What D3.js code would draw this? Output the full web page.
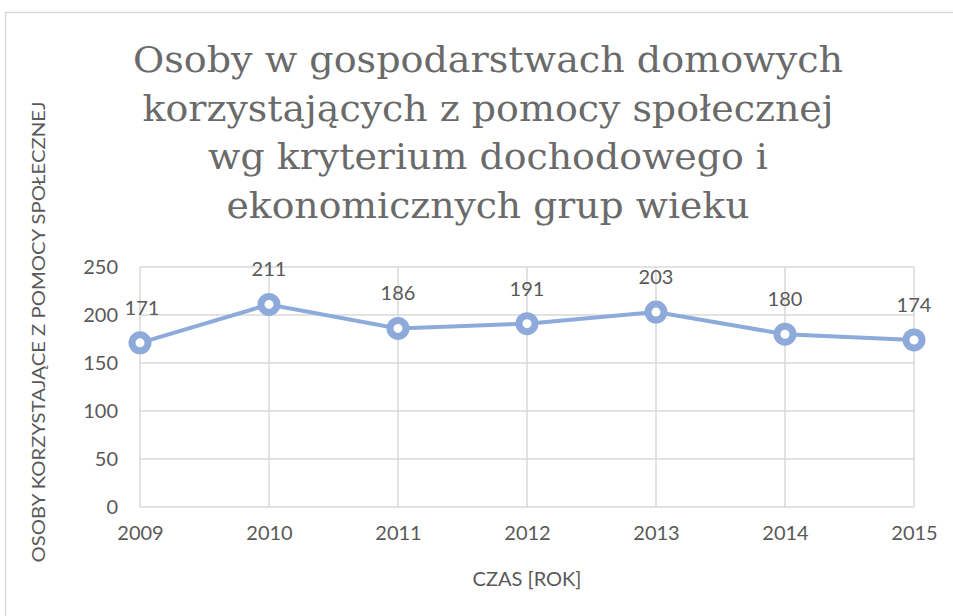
<!DOCTYPE html>
<html>
<head>
<meta charset="utf-8">
<script src="https://cdnjs.cloudflare.com/ajax/libs/d3/7.8.5/d3.min.js"></script>
<style>
    body { margin: 0; background: #fff; }
    text { fill: #595959; }
</style>
</head>
<body>
<div id="chart"></div>
<script>
// donnees du graphique
var lata = ["2009", "2010", "2011", "2012", "2013", "2014", "2015"];
var osoby = [171, 211, 186, 191, 203, 180, 174];
var yTicks = [0, 50, 100, 150, 200, 250];
var tytul = [
    "Osoby w gospodarstwach domowych",
    "korzystających z pomocy społecznej",
    "wg kryterium dochodowego i",
    "ekonomicznych grup wieku"
];
var tytulSzer = [710, 691, 560, 523];

var width = 953, height = 616;

var svg = d3.select("#chart").append("svg")
    .attr("width", width)
    .attr("height", height);

// cadre
svg.append("rect")
    .attr("x", 5.5)
    .attr("y", 12.5)
    .attr("width", 1000)
    .attr("height", 700)
    .style("fill", "none")
    .style("stroke", "#d9d9d9")
    .style("stroke-width", 1.5);

var x = d3.scalePoint().domain(lata).range([140, 914]);
var y = d3.scaleLinear().domain([0, 250]).range([507, 267]);

// titre
for (var i = 0; i < tytul.length; i++) {
    svg.append("text")
        .attr("x", 488)
        .attr("y", 72 + i * 48.5)
        .attr("text-anchor", "middle")
        .attr("textLength", tytulSzer[i])
        .attr("lengthAdjust", "spacingAndGlyphs")
        .style("font-family", "'DejaVu Serif', serif")
        .style("font-size", "35px")
        .style("fill", "#6a6a6a")
        .text(tytul[i]);
}

// grille
svg.append("g")
    .selectAll("line")
    .data(yTicks)
    .enter().append("line")
    .attr("x1", 140).attr("x2", 914)
    .attr("y1", function(d) { return y(d); })
    .attr("y2", function(d) { return y(d); })
    .style("stroke", "#d9d9d9")
    .style("stroke-width", 1.5);

svg.append("g")
    .selectAll("line")
    .data(lata)
    .enter().append("line")
    .attr("x1", function(d) { return x(d); })
    .attr("x2", function(d) { return x(d); })
    .attr("y1", y(0)).attr("y2", y(250))
    .style("stroke", "#d9d9d9")
    .style("stroke-width", 1.5);

// axes
var yAxis = svg.append("g")
    .attr("transform", "translate(118,0)")
    .call(d3.axisLeft(y).tickValues(yTicks).tickSize(0).tickPadding(0));
yAxis.select(".domain").remove();
yAxis.selectAll("text")
    .style("font-family", "Lato, 'Open Sans', sans-serif")
    .style("font-size", "20px")
    .style("fill", "#595959");

var xAxis = svg.append("g")
    .attr("transform", "translate(0," + 526 + ")")
    .call(d3.axisBottom(x).tickSize(0).tickPadding(0));
xAxis.select(".domain").remove();
xAxis.selectAll("text")
    .style("font-family", "Lato, 'Open Sans', sans-serif")
    .style("font-size", "20px")
    .style("fill", "#595959");

// titres des axes
svg.append("text")
    .attr("x", 527)
    .attr("y", 586)
    .attr("text-anchor", "middle")
    .attr("textLength", 109)
    .attr("lengthAdjust", "spacingAndGlyphs")
    .style("font-family", "Lato, 'Open Sans', sans-serif")
    .style("font-size", "19px")
    .text("CZAS [ROK]");

svg.append("text")
    .attr("transform", "translate(45,332) rotate(-90)")
    .attr("text-anchor", "middle")
    .attr("textLength", 461)
    .attr("lengthAdjust", "spacingAndGlyphs")
    .style("font-family", "Lato, 'Open Sans', sans-serif")
    .style("font-size", "18px")
    .text("OSOBY KORZYSTAJĄCE Z POMOCY SPOŁECZNEJ");

// ligne
var ligne = d3.line()
    .x(function(d, i) { return x(lata[i]); })
    .y(function(d) { return y(d); });

svg.append("path")
    .datum(osoby)
    .attr("d", ligne)
    .style("fill", "none")
    .style("stroke", "#8eaadb")
    .style("stroke-width", 4);

svg.append("g")
    .selectAll("circle")
    .data(osoby)
    .enter().append("circle")
    .attr("cx", function(d, i) { return x(lata[i]); })
    .attr("cy", function(d) { return y(d); })
    .attr("r", 8)
    .style("fill", "#fff")
    .style("stroke", "#8eaadb")
    .style("stroke-width", 7);

// etiquettes
svg.append("g")
    .selectAll("text")
    .data(osoby)
    .enter().append("text")
    .attr("x", function(d, i) { return x(lata[i]) + (i == 0 ? 2 : 0); })
    .attr("y", function(d) { return y(d) - 28; })
    .attr("text-anchor", "middle")
    .style("font-family", "Lato, 'Open Sans', sans-serif")
    .style("font-size", "20px")
    .text(function(d) { return d; });
</script>
</body>
</html>
